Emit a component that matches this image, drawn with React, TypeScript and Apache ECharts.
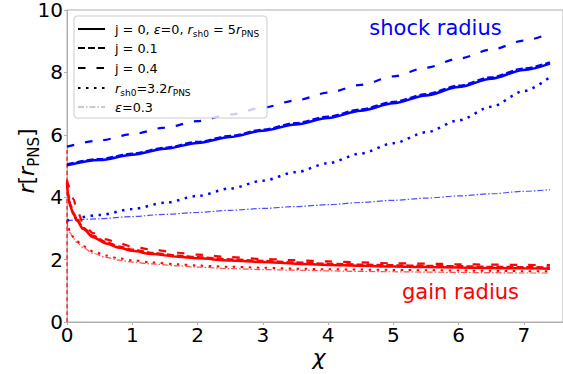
import React, { useEffect, useRef } from "react";
import * as echarts from "echarts";

const FONT = "DejaVu Sans";

// shock radius (blue)
const chiShock = [0, 0.5, 1, 1.5, 2, 2.5, 3, 3.5, 4, 4.5, 5, 5.5, 6, 6.5, 7, 7.4];
const shockJ0 = [5.02, 5.19, 5.36, 5.55, 5.74, 5.93, 6.13, 6.33, 6.54, 6.77, 7.01, 7.26, 7.53, 7.8, 8.08, 8.28];
const shockJ01 = [5.05, 5.22, 5.39, 5.58, 5.77, 5.96, 6.16, 6.37, 6.58, 6.81, 7.05, 7.3, 7.57, 7.84, 8.12, 8.32];
const shockJ04 = [5.62, 5.82, 6.02, 6.23, 6.44, 6.65, 6.87, 7.1, 7.35, 7.6, 7.87, 8.15, 8.44, 8.73, 9.02, 9.25];
const shockR32 = [3.25, 3.43, 3.62, 3.82, 4.04, 4.28, 4.53, 4.8, 5.09, 5.4, 5.73, 6.08, 6.46, 6.9, 7.4, 7.85];
const shockEps = [3.25, 3.31, 3.38, 3.45, 3.51, 3.58, 3.64, 3.7, 3.76, 3.83, 3.9, 3.97, 4.04, 4.11, 4.19, 4.24];

// gain radius (red)
const chiGain = [0, 0.02, 0.05, 0.1, 0.15, 0.25, 0.4, 0.6, 0.8, 1, 1.3, 1.7, 2, 2.5, 3, 3.5, 4, 4.5, 5, 5.5, 6, 6.5, 7, 7.4];
const gainJ0 = [4.45, 4.0, 3.7, 3.45, 3.25, 2.98, 2.72, 2.52, 2.38, 2.28, 2.18, 2.09, 2.04, 1.97, 1.92, 1.87, 1.83, 1.8, 1.78, 1.76, 1.75, 1.73, 1.72, 1.71];
const gainJ01 = [4.5, 4.1, 3.78, 3.5, 3.3, 3.02, 2.76, 2.56, 2.42, 2.32, 2.22, 2.13, 2.08, 2.01, 1.96, 1.91, 1.87, 1.84, 1.82, 1.8, 1.79, 1.77, 1.76, 1.75];
const gainJ04 = [4.55, 4.4, 4.2, 3.94, 3.6, 3.15, 2.85, 2.65, 2.52, 2.42, 2.32, 2.22, 2.16, 2.08, 2.02, 1.98, 1.94, 1.91, 1.88, 1.87, 1.85, 1.84, 1.83, 1.82];
const gainR32 = [3.25, 3.02, 2.88, 2.72, 2.6, 2.43, 2.26, 2.13, 2.04, 1.98, 1.91, 1.85, 1.81, 1.77, 1.74, 1.71, 1.69, 1.68, 1.67, 1.66, 1.65, 1.64, 1.63, 1.63];
const gainEps = [3.25, 3.0, 2.85, 2.68, 2.55, 2.38, 2.2, 2.07, 1.98, 1.92, 1.86, 1.8, 1.76, 1.71, 1.68, 1.66, 1.64, 1.62, 1.61, 1.6, 1.59, 1.58, 1.57, 1.57];

// vertical red segment at chi = 0
const vertChi = [0, 0];
const vertR = [0, 5.6];

const xTicks = [0, 1, 2, 3, 4, 5, 6, 7];
const yTicks = [0, 2, 4, 6, 8, 10];

const legendLabels = [
  "{n|j = 0, }{i|ε}{n|=0, }{i|r}{s|sh0}{n| = 5}{i|r}{s|PNS}",
  "{n|j = 0.1}",
  "{n|j = 0.4}",
  "{i|r}{s|sh0}{n|=3.2}{i|r}{s|PNS}",
  "{i|ε}{n|=0.3}",
];

const pairs = (xs: number[], ys: number[]) => xs.map((x, i) => [x, ys[i]]);

const DASH_SHORT = [7, 3];
const DASH_LONG = [7.5, 11];
const DOT = [2.5, 5.5];
const DASH_DOT = [6, 2, 1.5, 2];

const lineSeries = (
  data: number[][],
  color: string,
  width: number,
  type: any,
  opacity = 1,
  z = 2
) => ({
  type: "line",
  data,
  showSymbol: false,
  symbol: "none",
  smooth: 0.3,
  smoothMonotone: "x",
  clip: true,
  z,
  lineStyle: { color, width, type, opacity, cap: "butt" },
});

export default function App() {
  const ref = useRef<HTMLDivElement>(null);
  useEffect(() => {
    if (!ref.current) return;
    const chart = echarts.init(ref.current, undefined, { renderer: "svg" });
    const rich = (size: number, sub: number, lh: number) => ({
      n: { fontFamily: FONT, fontSize: size, lineHeight: lh, color: "#000" },
      i: { fontFamily: FONT, fontSize: size, lineHeight: lh, fontStyle: "italic", color: "#000" },
      s: { fontFamily: FONT, fontSize: sub, lineHeight: sub + 1, verticalAlign: "bottom", color: "#000" },
    });
    const legendY = [29, 48, 68, 88, 107];
    const legendDash: any[] = [null, DASH_SHORT, DASH_LONG, DOT, DASH_DOT];
    const legendColor = ["#000", "#000", "#000", "#000", "#b8b8c8"];
    const legendWidth = [2, 2, 2, 2, 1.5];
    const graphics: any[] = [
      {
        type: "rect",
        z: 100,
        shape: { x: 74, y: 16, width: 193, height: 102, r: 3 },
        style: { fill: "rgba(255,255,255,0.8)", stroke: "#cccccc", lineWidth: 1 },
      },
    ];
    legendY.forEach((yy, k) => {
      graphics.push({
        type: "line",
        z: 101,
        shape: { x1: 78, y1: yy, x2: 105, y2: yy },
        style: {
          stroke: legendColor[k],
          lineWidth: legendWidth[k],
          lineDash: legendDash[k] || undefined,
        },
      });
      graphics.push({
        type: "text",
        z: 101,
        x: 115,
        y: yy,
        style: {
          text: legendLabels[k],
          rich: rich(12.8, 9, 19),
          fontFamily: FONT,
          fontSize: 12.8,
          fill: "#000",
          align: "left",
          verticalAlign: "middle",
        },
      });
    });
    graphics.push(
      {
        type: "text",
        z: 101,
        x: 435.5,
        y: 27.5,
        style: {
          text: "shock radius",
          fontFamily: FONT,
          fontSize: 21,
          fill: "#0000ff",
          align: "center",
          verticalAlign: "middle",
        },
      },
      {
        type: "text",
        z: 101,
        x: 460.5,
        y: 292,
        style: {
          text: "gain radius",
          fontFamily: FONT,
          fontSize: 21,
          fill: "#ff0000",
          align: "center",
          verticalAlign: "middle",
        },
      },
      {
        type: "text",
        z: 101,
        x: 319,
        y: 357,
        style: {
          text: "χ",
          fontFamily: FONT,
          fontSize: 22,
          fontStyle: "italic",
          fill: "#000",
          align: "center",
          verticalAlign: "middle",
        },
      },
      {
        type: "text",
        z: 101,
        x: 26,
        y: 161,
        rotation: Math.PI / 2,
        style: {
          text: "{i|r}{n|[}{i|r}{s|PNS}{n|]}",
          rich: rich(22, 15, 30),
          fontFamily: FONT,
          fontSize: 22,
          fill: "#000",
          align: "center",
          verticalAlign: "middle",
        },
      }
    );

    const axisCommon = {
      axisLine: { show: true, lineStyle: { color: "#b0b0b0", width: 1 } },
      axisTick: { show: true, inside: false, length: 3, lineStyle: { color: "#b0b0b0" } },
      splitLine: { show: false },
    };

    chart.setOption({
      animation: false,
      backgroundColor: "#ffffff",
      grid: {
        left: 67,
        top: 8,
        width: 510,
        height: 314,
        show: true,
        borderColor: "#b0b0b0",
        borderWidth: 1,
        backgroundColor: "transparent",
      },
      xAxis: {
        type: "value",
        min: 0,
        max: 7.6,
        interval: 1,
        ...axisCommon,
        axisLabel: {
          show: true,
          fontFamily: FONT,
          fontSize: 20,
          color: "#000",
          margin: 3,
          showMaxLabel: false,
          formatter: (v: number) => (xTicks.includes(v) ? String(v) : ""),
        },
      },
      yAxis: {
        type: "value",
        min: 0,
        max: 10,
        interval: 2,
        ...axisCommon,
        axisLabel: {
          show: true,
          fontFamily: FONT,
          fontSize: 20,
          color: "#000",
          margin: 4,
          formatter: (v: number) => (yTicks.includes(v) ? String(v) : ""),
        },
      },
      series: [
        lineSeries(pairs(vertChi, vertR), "#ff0000", 1.2, [4, 3], 0.9, 2),
        lineSeries(pairs(chiShock, shockEps), "#2020ff", 1.2, DASH_DOT, 0.8, 3),
        lineSeries(pairs(chiShock, shockR32), "#0000ff", 2.5, DOT, 1, 3),
        lineSeries(pairs(chiShock, shockJ04), "#0000ff", 2.2, DASH_LONG, 1, 3),
        lineSeries(pairs(chiShock, shockJ0), "#0000ff", 2.5, "solid", 1, 3),
        lineSeries(pairs(chiShock, shockJ01), "#0000ff", 2.5, DASH_SHORT, 1, 4),
        lineSeries(pairs(chiGain, gainEps), "#ff2020", 1.2, DASH_DOT, 0.8, 3),
        lineSeries(pairs(chiGain, gainR32), "#ff0000", 2, DOT, 1, 3),
        lineSeries(pairs(chiGain, gainJ04), "#ff0000", 2.2, DASH_LONG, 1, 3),
        lineSeries(pairs(chiGain, gainJ0), "#ff0000", 2.5, "solid", 1, 3),
        lineSeries(pairs(chiGain, gainJ01), "#ff0000", 2.2, DASH_SHORT, 1, 4),
      ],
      graphic: graphics,
    });
    return () => chart.dispose();
  }, []);
  return (
    <div
      ref={ref}
      style={{ position: "fixed", left: 0, top: 0, width: 563, height: 374 }}
    />
  );
}
